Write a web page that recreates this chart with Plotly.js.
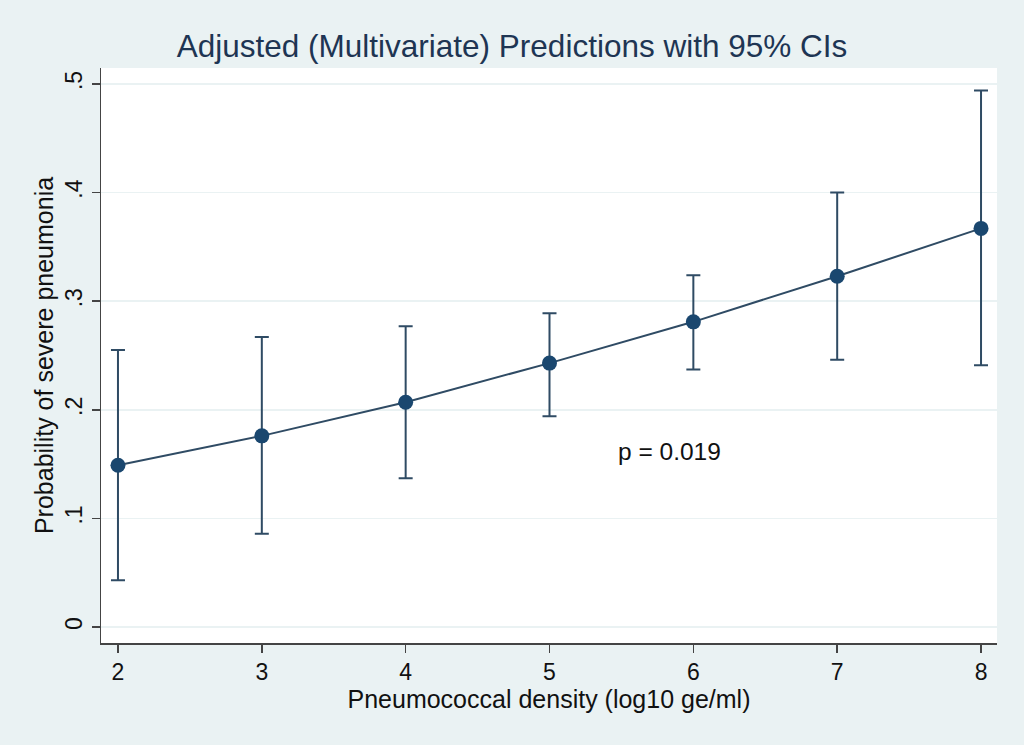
<!DOCTYPE html>
<html><head><meta charset="utf-8">
<script src="https://cdn.plot.ly/plotly-3.0.1.min.js"></script>
<style>html,body{margin:0;padding:0;background:#eaf2f3;}#chart{width:1024px;height:745px;}</style>
</head><body><div id="chart"></div>
<script>
const density = [2, 3, 4, 5, 6, 7, 8];
const prob = [0.149, 0.176, 0.207, 0.243, 0.281, 0.323, 0.367];
const ciLow = [0.043, 0.086, 0.137, 0.194, 0.237, 0.246, 0.241];
const ciHigh = [0.255, 0.267, 0.277, 0.289, 0.324, 0.400, 0.494];
const yTicks = [0, 0.1, 0.2, 0.3, 0.4, 0.5];
const yTickText = ['0', '.1', '.2', '.3', '.4', '.5'];
const xTicks = [2, 3, 4, 5, 6, 7, 8];

const font = 'Liberation Sans, Arial, Helvetica, sans-serif';
const trace = {
  x: density, y: prob, type: 'scatter', mode: 'lines+markers',
  line: {color: '#2f4b64', width: 2},
  marker: {color: '#1a476f', size: 15},
  error_y: {type: 'data', symmetric: false,
    array: prob.map((v, i) => ciHigh[i] - v),
    arrayminus: prob.map((v, i) => v - ciLow[i]),
    color: '#2f4b64', thickness: 2, width: 7},
  showlegend: false, hoverinfo: 'none'
};
const layout = {
  width: 1024, height: 745,
  paper_bgcolor: '#eaf2f3', plot_bgcolor: '#ffffff',
  margin: {l: 101, r: 27, t: 68, b: 102},
  title: {text: 'Adjusted (Multivariate) Predictions with 95% CIs', x: 0.5, xanchor: 'center', y: 0.938, yanchor: 'middle',
    font: {family: font, size: 31.5, color: '#1e3553'}},
  xaxis: {range: [1.882, 8.111], tickvals: xTicks, ticks: 'outside', ticklen: 8, tickwidth: 1.5, tickcolor: '#444',
    showline: true, linecolor: '#444', linewidth: 1.5, showgrid: false, zeroline: false,
    tickfont: {family: font, size: 23, color: '#111'},
    title: {text: 'Pneumococcal density (log10 ge/ml)', font: {family: font, size: 25, color: '#111'}, standoff: 4}},
  yaxis: {range: [-0.0147, 0.5147], tickvals: yTicks, ticktext: yTickText, tickangle: -90, ticks: 'outside', ticklen: 8, tickwidth: 1.5, tickcolor: '#444',
    showline: true, linecolor: '#444', linewidth: 1.5, showgrid: true, gridcolor: '#eaf2f3', gridwidth: 1.5, zeroline: false,
    tickfont: {family: font, size: 23, color: '#111'},
    title: {text: 'Probability of severe pneumonia', font: {family: font, size: 25, color: '#111'}, standoff: 0}},
  annotations: [{x: 5.46, y: 0.162, xref: 'x', yref: 'y', text: 'p = 0.019', showarrow: false, xanchor: 'left',
    font: {family: font, size: 24.5, color: '#111'}}]
};
Plotly.newPlot('chart', [trace], layout, {staticPlot: true, displayModeBar: false});
</script></body></html>
